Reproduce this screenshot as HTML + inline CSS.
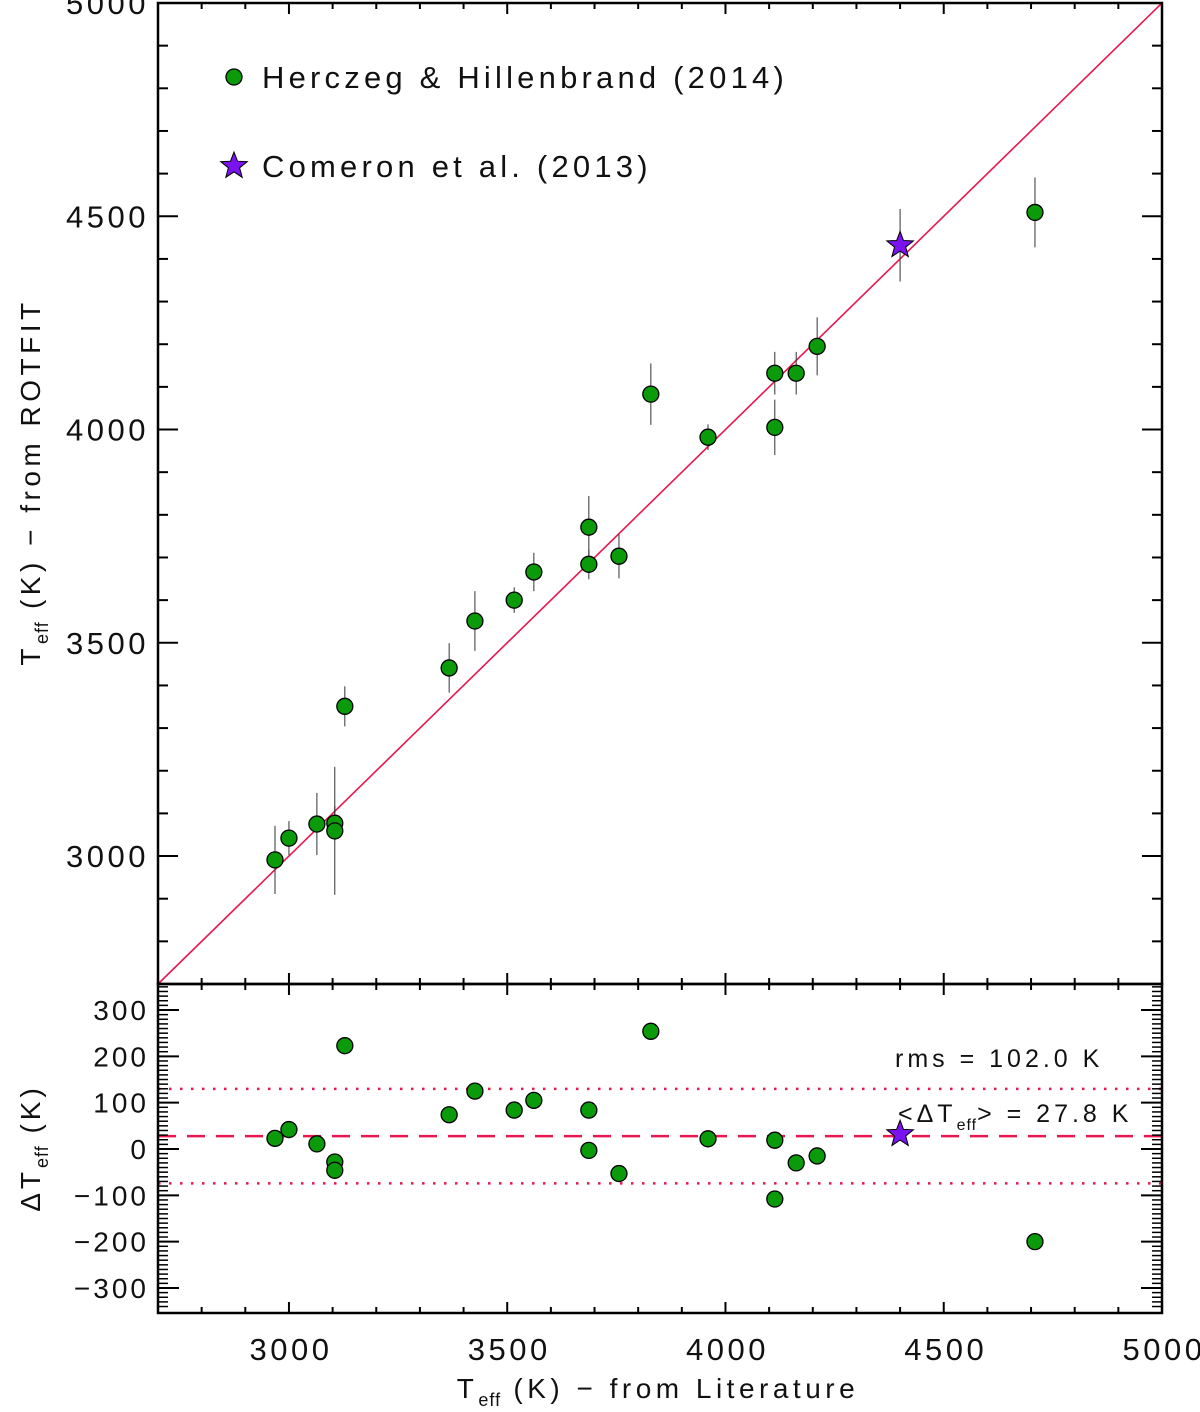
<!DOCTYPE html>
<html><head><meta charset="utf-8"><style>
html,body{margin:0;padding:0;background:#fff;}
svg{display:block;font-family:"Liberation Sans",sans-serif;}
text{fill:#111;}
</style></head><body>
<svg id="chart" width="1200" height="1412" viewBox="0 0 1200 1412" xmlns="http://www.w3.org/2000/svg"></svg>
<script>
const litTeff   = [2968,3000,3064,3105,3105,3128,3367,3426,3516,3561,3687,3687,3756,3829,3960,4113,4113,4162,4210,4709];
const rotfitTeff= [2991,3042,3075,3077,3059,3351,3441,3551,3600,3666,3771,3684,3703,4083,3982,4132,4005,4132,4195,4509];
const rotfitErr = [80,40,73,40,150,47,58,70,30,45,73,35,52,72,30,50,65,50,68,82];
const starLit = [4400];
const starRot = [4432];
const starErr = [85];
const meanDelta = 27.8;
const rmsDelta = 102.0;
const xTicks = [3000,3500,4000,4500,5000];
const yTicksTop = [3000,3500,4000,4500,5000];
const yTicksBot = [-300,-200,-100,0,100,200,300];

const NS="http://www.w3.org/2000/svg";
const svg=document.getElementById('chart');
const L=158,R=1162,T1=3,B1=984,T2=984,B2=1313;
const X=v=>L+(v-2700)/(5000-2700)*(R-L);
const Y1=v=>B1-(v-2700)/(5000-2700)*(B1-T1);
const Y2=v=>1149-v*0.4633;
function el(tag,attrs,parent){const e=document.createElementNS(NS,tag);for(const k in attrs)e.setAttribute(k,attrs[k]);(parent||svg).appendChild(e);return e;}

const oneToOne=el('line',{x1:X(2700),y1:Y1(2700),x2:X(5000),y2:Y1(5000),stroke:'#e8174f','stroke-width':1.6});



const mline=el('line',{x1:L,x2:R,y1:Y2(meanDelta),y2:Y2(meanDelta),stroke:'#e8174f','stroke-width':2.5,'stroke-dasharray':'18,11'});


[meanDelta+rmsDelta,meanDelta-rmsDelta].forEach((v,i)=>{
  const d=el('line',{x1:L,x2:R,y1:Y2(v),y2:Y2(v),stroke:'#e8174f','stroke-width':2.5,'stroke-dasharray':'2.5,8.5'});
  
  
});

const f1=el('rect',{x:L,y:T1,width:R-L,height:B1-T1,fill:'none',stroke:'#000','stroke-width':2.5});


const f2=el('rect',{x:L,y:T2,width:R-L,height:B2-T2,fill:'none',stroke:'#000','stroke-width':2.5});



for(let v=2800;v<=4900;v+=100){
  const maj=v%500===0, len=maj?11:6;
  [[T1,1],[B1,-1],[T2,1],[B2,-1]].forEach(([y,s])=>{
    el('line',{x1:X(v),x2:X(v),y1:y,y2:y+s*len,stroke:'#000','stroke-width':2});
  });
}
xTicks.forEach(v=>{
  const t=el('text',{x:X(v)+2,y:1360,'font-size':31,'text-anchor':'middle','letter-spacing':'3.5'});t.textContent=v;
  
  
});
for(let v=2800;v<=4900;v+=100){
  const maj=v%500===0,len=maj?20:10;
  el('line',{x1:L,x2:L+len,y1:Y1(v),y2:Y1(v),stroke:'#000','stroke-width':2});
  el('line',{x1:R,x2:R-len,y1:Y1(v),y2:Y1(v),stroke:'#000','stroke-width':2});
}
yTicksTop.forEach(v=>{
  const t=el('text',{x:149,y:Y1(v)+11,'font-size':31,'text-anchor':'end','letter-spacing':'3.5'});t.textContent=v;
  
  
});
for(let v=-350;v<=350;v+=10){
  if(Y2(v)<T2+2||Y2(v)>B2-2)continue;
  el('line',{x1:L,x2:L+10,y1:Y2(v),y2:Y2(v),stroke:'#000','stroke-width':1.5});
  el('line',{x1:R,x2:R-10,y1:Y2(v),y2:Y2(v),stroke:'#000','stroke-width':1.5});
}
for(let v=-300;v<=300;v+=100){
  el('line',{x1:L,x2:L+21,y1:Y2(v),y2:Y2(v),stroke:'#000','stroke-width':2});
  el('line',{x1:R,x2:R-21,y1:Y2(v),y2:Y2(v),stroke:'#000','stroke-width':2});
}
yTicksBot.forEach(v=>{
  const t=el('text',{x:149,y:Y2(v)+10,'font-size':28,'text-anchor':'end','letter-spacing':'3'});t.textContent=(v<0?'\u2212'+(-v):v);
  
  
});

function starPath(cx,cy,r){let p='';for(let i=0;i<10;i++){const a=-Math.PI/2+i*Math.PI/5,rr=i%2?r*0.42:r;p+=(i?'L':'M')+(cx+rr*Math.cos(a)).toFixed(1)+','+(cy+rr*Math.sin(a)).toFixed(1);}return p+'Z';}

litTeff.forEach((lx,i)=>{
  const ry=rotfitTeff[i],e=rotfitErr[i];
  const eb=el('line',{x1:X(lx),x2:X(lx),y1:Y1(ry-e),y2:Y1(ry+e),stroke:'#333','stroke-width':1});
  
  
});
litTeff.forEach((lx,i)=>{
  const c=el('circle',{cx:X(lx),cy:Y1(rotfitTeff[i]),r:8,fill:'#0a9a0a',stroke:'#000','stroke-width':1.3});
  
  
  const d=el('circle',{cx:X(lx),cy:Y2(rotfitTeff[i]-lx),r:8,fill:'#0a9a0a',stroke:'#000','stroke-width':1.3});
  
  
});
starLit.forEach((lx,i)=>{
  const eb=el('line',{x1:X(lx),x2:X(lx),y1:Y1(starRot[i]-starErr[i]),y2:Y1(starRot[i]+starErr[i]),stroke:'#333','stroke-width':1});
  
  
  const s=el('path',{d:starPath(X(lx),Y1(starRot[i]),14),fill:'#7b12f0',stroke:'#000','stroke-width':1});
  
  
  const s2=el('path',{d:starPath(X(lx),Y2(starRot[i]-lx),14),fill:'#7b12f0',stroke:'#000','stroke-width':1});
  
  
});

const lc=el('circle',{cx:234,cy:77,r:8,fill:'#0a9a0a',stroke:'#000','stroke-width':1.3});


const lt1=el('text',{x:262,y:88,'font-size':31,'letter-spacing':'4.2'});lt1.textContent='Herczeg & Hillenbrand (2014)';


const ls=el('path',{d:starPath(234,166,14),fill:'#7b12f0',stroke:'#000','stroke-width':1});


const lt2=el('text',{x:262,y:177,'font-size':31,'letter-spacing':'4.2'});lt2.textContent='Comeron et al. (2013)';



const a1=el('text',{x:895,y:1067,'font-size':25,'letter-spacing':'4'});a1.textContent='rms = '+rmsDelta.toFixed(1)+' K';


const a2=el('text',{x:898,y:1122,'font-size':25,'letter-spacing':'4'});
a2.innerHTML='&lt;ΔT<tspan font-size="16" dy="8" letter-spacing="1">eff</tspan><tspan dy="-8">&gt; = '+meanDelta.toFixed(1)+' K</tspan>';



const xt=el('text',{x:658,y:1398,'font-size':28,'text-anchor':'middle','letter-spacing':'4.5'});
xt.innerHTML='T<tspan font-size="18" dy="8" letter-spacing="1">eff</tspan><tspan dy="-8"> (K) \u2212 from Literature</tspan>';


const yt=el('text',{x:0,y:0,'font-size':28,'text-anchor':'middle','letter-spacing':'4.5',transform:'translate(40,482) rotate(-90)'});
yt.innerHTML='T<tspan font-size="18" dy="8" letter-spacing="1">eff</tspan><tspan dy="-8"> (K) \u2212 from ROTFIT</tspan>';


const yb=el('text',{x:0,y:0,'font-size':28,'text-anchor':'middle','letter-spacing':'4',transform:'translate(40,1148) rotate(-90)'});
yb.innerHTML='ΔT<tspan font-size="18" dy="8" letter-spacing="1">eff</tspan><tspan dy="-8"> (K)</tspan>';


</script>
</body></html>
